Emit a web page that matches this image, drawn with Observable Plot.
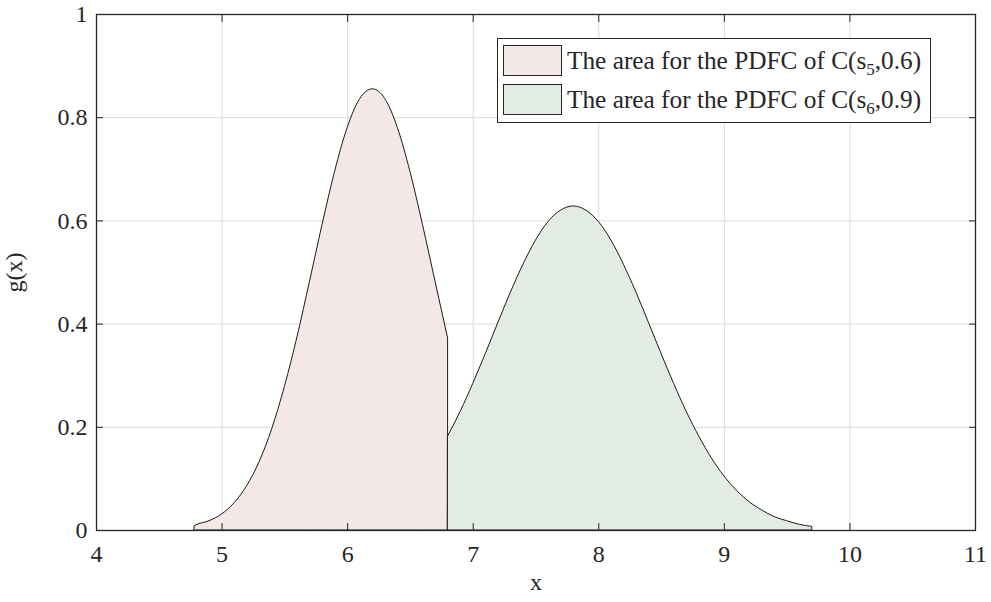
<!DOCTYPE html>
<html>
<head>
<meta charset="utf-8">
<script src="https://cdn.jsdelivr.net/npm/d3@7"></script>
<script src="https://cdn.jsdelivr.net/npm/@observablehq/plot@0.6"></script>
<style>
  html, body { margin: 0; padding: 0; background: #fff; }
  #wrap { position: relative; width: 991px; height: 602px; font-family: "Liberation Serif", "Times New Roman", serif; color: #262626; }
  #legend { position: absolute; left: 497px; top: 38px; width: 434px; height: 85px; border: 1.3px solid #262626; background: #fff; box-sizing: border-box; }
  .row { position: absolute; left: 5px; height: 31px; display: flex; align-items: center; }
  .sw { width: 57px; height: 29px; border: 1.3px solid #262626; box-sizing: content-box; }
  .lt { margin-left: 5px; font-size: 25.3px; white-space: nowrap; line-height: 1; }
  .lt sub { font-size: 17px; vertical-align: -6px; line-height: 0; }
</style>
</head>
<body>
<div id="wrap"></div>
<script>
// Series 1: area for the PDFC of C(s5,0.6)
const s5X = [4.78, 4.78, 4.9, 5.0, 5.1, 5.2, 5.3, 5.4, 5.5, 5.6, 5.7, 5.8, 5.9, 6.0, 6.1, 6.2, 6.3, 6.4, 6.5, 6.6, 6.7, 6.8];
const s5Y = [0, 0.008, 0.018, 0.031, 0.053, 0.086, 0.133, 0.197, 0.278, 0.374, 0.482, 0.592, 0.695, 0.780, 0.836, 0.855, 0.836, 0.780, 0.695, 0.592, 0.482, 0.372];
// Series 2: area for the PDFC of C(s6,0.9)
const s6X = [6.8, 6.9, 7.0, 7.1, 7.2, 7.3, 7.4, 7.5, 7.6, 7.7, 7.8, 7.9, 8.0, 8.1, 8.2, 8.3, 8.4, 8.5, 8.6, 8.7, 8.8, 8.9, 9.0, 9.1, 9.2, 9.3, 9.4, 9.5, 9.6, 9.7, 9.7];
const s6Y = [0.182, 0.230, 0.284, 0.342, 0.402, 0.461, 0.515, 0.562, 0.598, 0.620, 0.628, 0.620, 0.598, 0.562, 0.515, 0.461, 0.402, 0.342, 0.284, 0.230, 0.182, 0.140, 0.105, 0.077, 0.055, 0.039, 0.026, 0.018, 0.011, 0.007, 0];
const xTicks = [4, 5, 6, 7, 8, 9, 10, 11];
const xTickLabels = ["4", "5", "6", "7", "8", "9", "10", "11"];
const yTicks = [0, 0.2, 0.4, 0.6, 0.8, 1];
const yTickLabels = ["0", "0.2", "0.4", "0.6", "0.8", "1"];
const seriesColors = ["#f3e8e6", "#e3ece3"];

const s5 = s5X.map((x, i) => ({x, y: s5Y[i]}));
const s6 = s6X.map((x, i) => ({x, y: s6Y[i]}));
const ink = "#262626";

const chart = Plot.plot({
  width: 991,
  height: 602,
  marginLeft: 96,
  marginRight: 16,
  marginTop: 14,
  marginBottom: 72,
  style: {fontFamily: "'Liberation Serif', 'Times New Roman', serif", fontSize: "24px", color: ink, background: "#fff"},
  x: {domain: [4, 11]},
  y: {domain: [0, 1]},
  marks: [
    Plot.gridX(xTicks, {stroke: "#dadada", strokeOpacity: 1}),
    Plot.gridY(yTicks, {stroke: "#dadada", strokeOpacity: 1}),
    Plot.areaY(s5, {x: "x", y: "y", fill: seriesColors[0], stroke: "#1a1a1a", strokeWidth: 1, curve: "monotone-x"}),
    Plot.areaY(s6, {x: "x", y: "y", fill: seriesColors[1], stroke: "#1a1a1a", strokeWidth: 1, curve: "monotone-x"}),
    Plot.frame({stroke: ink, strokeWidth: 1.3}),
    Plot.axisX(xTicks, {anchor: "bottom", tickSize: -7, tickFormat: () => "", label: null, stroke: ink}),
    Plot.axisX(xTicks, {anchor: "top", tickSize: -7, tickFormat: () => "", label: null, stroke: ink}),
    Plot.axisY(yTicks, {anchor: "left", tickSize: -7, tickFormat: () => "", label: null, stroke: ink}),
    Plot.axisY(yTicks, {anchor: "right", tickSize: -7, tickFormat: () => "", label: null, stroke: ink}),
    Plot.axisX(xTicks, {anchor: "bottom", tickSize: 0, tickPadding: 14, fontSize: 24, fill: ink,
      tickFormat: (d) => xTickLabels[xTicks.indexOf(d)],
      label: "x", labelAnchor: "center", labelArrow: "none", labelOffset: 59}),
    Plot.axisY(yTicks, {anchor: "left", tickSize: 0, tickPadding: 9, fontSize: 24, fill: ink,
      tickFormat: (d) => yTickLabels[yTicks.indexOf(d)],
      label: "g(x)", labelAnchor: "center", labelArrow: "none", labelOffset: 92})
  ]
});

const wrap = document.getElementById("wrap");
wrap.appendChild(chart);

const legend = document.createElement("div");
legend.id = "legend";
const labels = [["The area for the PDFC of C(s", "5", ",0.6)"], ["The area for the PDFC of C(s", "6", ",0.9)"]];
labels.forEach((parts, i) => {
  const row = document.createElement("div");
  row.className = "row";
  row.style.top = (6 + i * 39) + "px";
  const sw = document.createElement("div");
  sw.className = "sw";
  sw.style.background = seriesColors[i];
  const t = document.createElement("div");
  t.className = "lt";
  t.innerHTML = parts[0] + "<sub>" + parts[1] + "</sub>" + parts[2];
  row.appendChild(sw);
  row.appendChild(t);
  legend.appendChild(row);
});
wrap.appendChild(legend);
</script>
</body>
</html>
